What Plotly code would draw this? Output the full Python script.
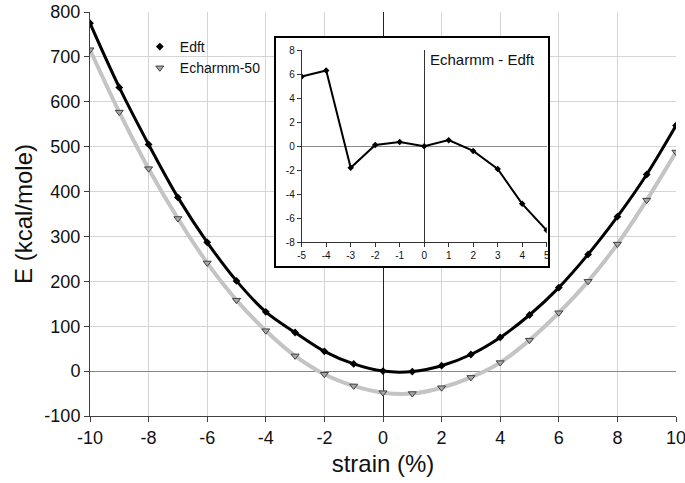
import plotly.graph_objects as go

strain = [-10, -9, -8, -7, -6, -5, -4, -3, -2, -1, 0, 1, 2, 3, 4, 5, 6, 7, 8, 9, 10]
e_dft = [775, 632, 505, 387, 287, 201, 132, 86, 44, 16, 0, -1, 12, 37, 75, 125, 186, 260, 344, 438, 547]
e_charmm_50 = [716, 577, 451, 340, 241, 158, 90, 34, -7, -33, -48, -50, -37, -14, 19, 69, 130, 200, 283, 381, 488]

inset_strain = [-5, -4, -3, -2, -1, 0, 1, 2, 3, 4, 5]
inset_diff = [5.8, 6.3, -1.8, 0.1, 0.35, 0.0, 0.5, -0.4, -1.9, -4.8, -7.0]

x_ticks = list(range(-10, 11, 2))
y_ticks = list(range(-100, 801, 100))
inset_x_ticks = list(range(-5, 6, 1))
inset_y_ticks = list(range(-8, 9, 2))

# tick labels use a plain hyphen as in the reference
x_labels = [str(v) for v in x_ticks]
y_labels = [str(v) for v in y_ticks]
inset_x_labels = [str(v) for v in inset_x_ticks]
inset_y_labels = [str(v) for v in inset_y_ticks]

FONT = "Liberation Sans, Arial, sans-serif"

fig = go.Figure()

fig.add_trace(go.Scatter(
    x=strain, y=e_charmm_50, mode="lines+markers", showlegend=False,
    line=dict(color="#c4c4c4", width=4, shape="spline", smoothing=1.0),
    marker=dict(symbol="triangle-down", size=7, color="#a8a8a8",
                line=dict(color="#404040", width=1)),
    xaxis="x", yaxis="y"))
fig.add_trace(go.Scatter(
    x=strain, y=e_dft, mode="lines+markers", showlegend=False,
    line=dict(color="black", width=3, shape="spline", smoothing=1.0),
    marker=dict(symbol="diamond", size=6, color="black"),
    xaxis="x", yaxis="y"))

# legend entries (markers only)
fig.add_trace(go.Scatter(
    x=[None], y=[None], mode="markers", name="Edft",
    marker=dict(symbol="diamond", size=6, color="black"),
    xaxis="x", yaxis="y"))
fig.add_trace(go.Scatter(
    x=[None], y=[None], mode="markers", name="Echarmm-50",
    marker=dict(symbol="triangle-down", size=7, color="#a8a8a8",
                line=dict(color="#404040", width=1)),
    xaxis="x", yaxis="y"))

# box background subplot (x2/y2)
fig.add_trace(go.Scatter(x=[None], y=[None], showlegend=False, hoverinfo="skip",
                         xaxis="x2", yaxis="y2"))

# inset data (x3/y3)
fig.add_trace(go.Scatter(
    x=inset_strain, y=inset_diff, mode="lines+markers", showlegend=False,
    line=dict(color="black", width=2),
    marker=dict(symbol="diamond", size=5, color="black"),
    xaxis="x3", yaxis="y3"))

fig.update_layout(
    template="none",
    width=685, height=483,
    margin=dict(l=90, r=9, t=12, b=67, autoexpand=False),
    paper_bgcolor="white", plot_bgcolor="white",
    font=dict(family=FONT, color="#111111"),
    showlegend=True,
    legend=dict(x=0.085, y=0.953, xanchor="left", yanchor="top",
                bgcolor="rgba(0,0,0,0)", borderwidth=0,
                font=dict(size=14, family=FONT, color="#111111"),
                itemsizing="trace"),
    xaxis=dict(domain=[0, 1], range=[-10, 10], tickvals=x_ticks, ticktext=x_labels,
               automargin=False, ticklabeloverflow="allow",
               ticks="outside", ticklen=5, tickcolor="#404040",
               showline=True, linecolor="#404040", linewidth=1,
               showgrid=True, gridcolor="#d4d4d4", gridwidth=1,
               zeroline=True, zerolinecolor="#222222", zerolinewidth=1,
               tickfont=dict(size=18, family=FONT, color="#111111"),
               title=dict(text="strain (%)", font=dict(size=24, family=FONT, color="#111111"), standoff=8)),
    yaxis=dict(domain=[0, 1], range=[-100, 800], tickvals=y_ticks, ticktext=y_labels,
               automargin=False, ticklabeloverflow="allow",
               ticks="outside", ticklen=5, tickcolor="#404040",
               showline=True, linecolor="#404040", linewidth=1,
               showgrid=True, gridcolor="#d4d4d4", gridwidth=1,
               zeroline=True, zerolinecolor="#888888", zerolinewidth=1,
               tickfont=dict(size=18, family=FONT, color="#111111"),
               title=dict(text="E (kcal/mole)", font=dict(size=24, family=FONT, color="#111111"), standoff=4)),
    xaxis2=dict(domain=[0.3169, 0.7816], range=[0, 1], anchor="y2", automargin=False,
                showline=True, mirror=True, linecolor="black", linewidth=2,
                showgrid=False, zeroline=False, showticklabels=False, ticks=""),
    yaxis2=dict(domain=[0.3713, 0.9364], range=[0, 1], anchor="x2", automargin=False,
                showline=True, mirror=True, linecolor="black", linewidth=2,
                showgrid=False, zeroline=False, showticklabels=False, ticks=""),
    xaxis3=dict(domain=[0.3613, 0.7793], range=[-5, 5], anchor="y3", automargin=False,
                tickvals=inset_x_ticks, ticktext=inset_x_labels, ticklabeloverflow="allow",
                ticks="outside", ticklen=4, tickcolor="#333333",
                showline=True, linecolor="#333333", linewidth=1,
                showgrid=False, zeroline=True, zerolinecolor="#333333", zerolinewidth=1,
                tickfont=dict(size=10, family=FONT, color="#111111")),
    yaxis3=dict(domain=[0.4300, 0.9059], range=[-8, 8], anchor="x3", automargin=False,
                tickvals=inset_y_ticks, ticktext=inset_y_labels, ticklabeloverflow="allow",
                ticks="outside", ticklen=4, tickcolor="#333333",
                showline=True, linecolor="#333333", linewidth=1,
                showgrid=False, zeroline=True, zerolinecolor="#888888", zerolinewidth=1,
                tickfont=dict(size=10, family=FONT, color="#111111")),
    annotations=[dict(text="Echarmm - Edft", xref="x3", yref="y3", x=0.15, y=7.25,
                      xanchor="left", yanchor="middle", showarrow=False,
                      font=dict(size=15, family=FONT, color="#111111"))],
)

fig.write_html("out.html")
